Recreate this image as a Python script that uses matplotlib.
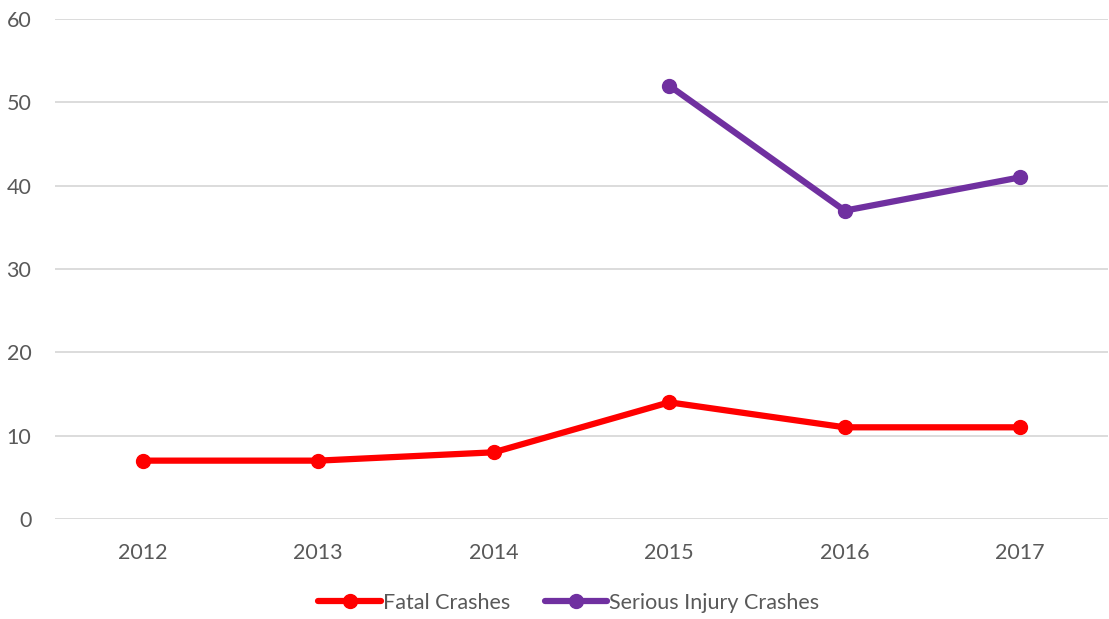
import matplotlib
matplotlib.use("Agg")
import matplotlib.pyplot as plt
import numpy as np

# data
years = ["2012", "2013", "2014", "2015", "2016", "2017"]
fatal = [7, 7, 8, 14, 11, 11]
serious = [np.nan, np.nan, np.nan, 52, 37, 41]

plt.rcParams['font.family'] = ['Lato', 'DejaVu Sans']

fig = plt.figure(figsize=(11.09, 6.19), dpi=100)
ax = fig.add_axes([0.0496, 0.1616, 0.9495, 0.8077])

x = np.arange(len(years))
ax.plot(x, fatal, color='#FF0000', lw=4.5, marker='o', ms=10,
        solid_capstyle='round', label='Fatal Crashes')
ax.plot(x, serious, color='#7030A0', lw=4.5, marker='o', ms=10,
        solid_capstyle='round', label='Serious Injury Crashes')

ax.set_xlim(-0.5, len(years) - 0.5)
ax.set_ylim(0, 60)
ax.set_yticks(range(0, 61, 10))
ax.set_xticks(x)
ax.set_xticklabels(years)
ax.yaxis.grid(True, color='#D9D9D9', lw=1.3)
ax.set_axisbelow(True)
for s in ax.spines.values():
    s.set_visible(False)
ax.tick_params(length=0, labelsize=15.5, colors='#595959')
ax.tick_params(axis='x', pad=17)
ax.tick_params(axis='y', pad=17)

leg = fig.legend(loc='center', bbox_to_anchor=(0.513, 0.026), ncol=2,
                 frameon=False, fontsize=15.5, handlelength=2.9,
                 handletextpad=0.1, columnspacing=1.6)
for t in leg.get_texts():
    t.set_color('#595959')

fig.savefig('out.png', dpi=100)
